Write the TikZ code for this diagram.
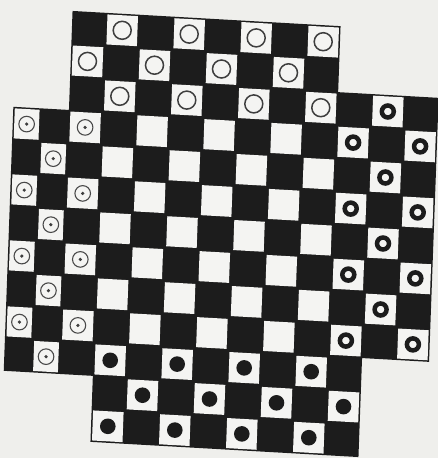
\documentclass[tikz,border=0pt]{standalone}
\definecolor{paper}{HTML}{EFEFEC}
\definecolor{ink}{HTML}{1C1C1C}
\definecolor{sq}{HTML}{F4F4F2}
\tikzset{
  boardfill/.style={fill=ink},
  whitesq/.style={fill=sq},
  hollowpc/.style={draw=ink!85, line width=1.5pt, fill=sq},
  targetpc/.style={draw=ink!80, line width=1.1pt, fill=sq},
  targetdot/.style={fill=ink!85},
  thickpc/.style={draw=ink, line width=4.5pt},
  discpc/.style={fill=ink}
}
\begin{document}
\begin{tikzpicture}[x=1pt,y=-1pt]
\fill[paper] (0,0) rectangle (438,458);
\useasboundingbox (0,0) rectangle (438,458);
\begin{scope}[shift={(215.5pt,-234pt)}, x={(33.5pt,-1.9pt)}, y={(-1.2pt,-33pt)}]
  % board outline
  \fill[boardfill] (-4.5,-6.5) -- (3.5,-6.5) -- (3.5,-4.5) -- (6.5,-4.5) -- (6.5,3.5)
    -- (4.5,3.5) -- (4.5,6.5) -- (-3.5,6.5) -- (-3.5,4.5) -- (-6.16,4.5)
    -- (-6.16,-3.5) -- (-4.5,-3.5) -- cycle;
  % white squares
  \foreach \r/\cl in {0/{3,5,7,9},1/{2,4,6,8},2/{3,5,7,9,11},
      3/{0,2,4,6,8,10,12},4/{1,3,5,7,9,11},5/{0,2,4,6,8,10,12},
      6/{1,3,5,7,9,11},7/{0,2,4,6,8,10,12},8/{1,3,5,7,9,11},
      9/{0,2,4,6,8,10,12},10/{1,3,5,7,9},11/{4,6,8,10},12/{3,5,7,9}}{
    \foreach \c in \cl {
      \pgfmathsetmacro{\ul}{\c<2 ? -6.16+0.83*\c : \c-6.5}
      \pgfmathsetmacro{\ur}{\c<2 ? -6.16+0.83*(\c+1) : \c-5.5}
      \fill[whitesq] (\ul+0.045,\r-6.5+0.045) -- (\ur-0.045,\r-6.5+0.045)
        -- (\ur-0.045,\r-5.5-0.045) -- (\ul+0.045,\r-5.5-0.045) -- cycle;
    }
  }
  % top player: hollow rings
  \foreach \r/\cl in {0/{3,5,7,9},1/{2,4,6,8},2/{3,5,7,9}}{
    \foreach \c in \cl {
      \draw[hollowpc] (\c-6,\r-6) circle[radius=9pt];
    }
  }
  % right player: thick rings
  \foreach \r/\cl in {2/{11},3/{10,12},4/{11},5/{10,12},6/{11},7/{10,12},8/{11},9/{10,12}}{
    \foreach \c in \cl {
      \draw[thickpc] (\c-6,\r-6) circle[radius=6pt];
    }
  }
  % left player: rings with a dot
  \foreach \r/\cl in {3/{0,2},4/{1},5/{0,2},6/{1},7/{0,2},8/{1},9/{0,2},10/{1}}{
    \foreach \c in \cl {
      \pgfmathsetmacro{\uc}{\c<2 ? -6.16+0.83*(\c+0.5) : \c-6}
      \draw[targetpc] (\uc,\r-6) circle[radius=7.8pt];
      \fill[targetdot] (\uc,\r-6) circle[radius=1.8pt];
    }
  }
  % bottom player: solid discs
  \foreach \r/\cl in {10/{3,5,7,9},11/{4,6,8,10},12/{3,5,7,9}}{
    \foreach \c in \cl {
      \fill[discpc] (\c-6,\r-6) circle[radius=7.8pt];
    }
  }
\end{scope}
\end{tikzpicture}
\end{document}
